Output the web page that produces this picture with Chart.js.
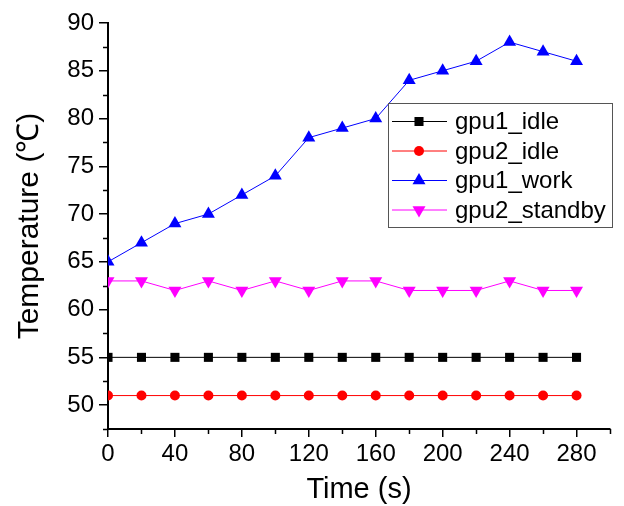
<!DOCTYPE html>
<html>
<head>
<meta charset="utf-8">
<script src="https://cdn.jsdelivr.net/npm/chart.js@4/dist/chart.umd.min.js"></script>
<style>
  html, body { margin: 0; padding: 0; background: #fff; }
  #wrap { width: 624px; height: 506px; position: relative; }
</style>
</head>
<body>
<div id="wrap"><canvas id="c" width="624" height="506"></canvas></div>
<script>
// Sampling times (s)
const timeS = [0, 20, 40, 60, 80, 100, 120, 140, 160, 180, 200, 220, 240, 260, 280];

// Temperatures (°C) per GPU state
const gpu1Idle    = [55, 55, 55, 55, 55, 55, 55, 55, 55, 55, 55, 55, 55, 55, 55];
const gpu2Idle    = [51, 51, 51, 51, 51, 51, 51, 51, 51, 51, 51, 51, 51, 51, 51];
const gpu1Work    = [65, 67, 69, 70, 72, 74, 78, 79, 80, 84, 85, 86, 88, 87, 86];
const gpu2Standby = [63, 63, 62, 63, 62, 63, 62, 63, 63, 62, 62, 62, 63, 62, 62];

// Axis ticks
const xMajorTicks = [0, 40, 80, 120, 160, 200, 240, 280];
const xMinorTicks = [20, 60, 100, 140, 180, 220, 260, 300];
const yMajorTicks = [50, 55, 60, 65, 70, 75, 80, 85, 90];
const yMinorTicks = [47.5, 52.5, 57.5, 62.5, 67.5, 72.5, 77.5, 82.5, 87.5];

const FONT = "'Liberation Sans', Arial, Helvetica, sans-serif";

function pts(arr) { return timeS.map((t, i) => ({ x: t, y: arr[i] })); }

function series(label, arr, color, style, radius, rotation) {
  return {
    label: label,
    data: pts(arr),
    borderColor: color,
    backgroundColor: color,
    borderWidth: 1,
    pointStyle: style,
    pointRadius: radius,
    pointHoverRadius: radius,
    pointRotation: rotation || 0,
    pointBorderWidth: 0,
    pointBackgroundColor: color,
    pointBorderColor: color,
    tension: 0
  };
}

// Short minor tick marks on both axes
const minorTicks = {
  id: 'minorTicks',
  afterDraw(chart) {
    const ctx = chart.ctx;
    const xs = chart.scales.x, ys = chart.scales.y;
    const area = chart.chartArea;
    ctx.save();
    ctx.strokeStyle = '#000';
    ctx.lineWidth = 1.5;
    ctx.beginPath();
    yMinorTicks.forEach(v => {
      const py = Math.round(ys.getPixelForValue(v)) + 0.5;
      ctx.moveTo(area.left - 5, py);
      ctx.lineTo(area.left, py);
    });
    xMinorTicks.forEach(v => {
      const px = Math.round(xs.getPixelForValue(v)) + 0.5;
      ctx.moveTo(px, area.bottom);
      ctx.lineTo(px, area.bottom + 5);
    });
    ctx.stroke();
    ctx.restore();
  }
};

// Boxed legend drawn inside the plot, line sample through marker
const boxLegend = {
  id: 'boxLegend',
  afterDraw(chart) {
    const ctx = chart.ctx;
    const box = { x: 388, y: 103, w: 224, h: 124 };
    ctx.save();
    ctx.fillStyle = '#fff';
    ctx.fillRect(box.x, box.y, box.w, box.h);
    ctx.strokeStyle = '#555';
    ctx.lineWidth = 1;
    ctx.strokeRect(box.x + 0.5, box.y + 0.5, box.w, box.h);
    const rowY0 = 121.5, rowStep = 29.5;
    chart.data.datasets.forEach((ds, i) => {
      const y = rowY0 + i * rowStep;
      ctx.strokeStyle = ds.borderColor;
      ctx.lineWidth = 1;
      ctx.beginPath();
      ctx.moveTo(392, y);
      ctx.lineTo(447, y);
      ctx.stroke();
      ctx.fillStyle = ds.backgroundColor;
      Chart.helpers.drawPoint(ctx, {
        pointStyle: ds.pointStyle,
        radius: ds.pointRadius,
        rotation: ds.pointRotation,
        borderWidth: 0
      }, 419, y);
      ctx.fillStyle = '#000';
      ctx.font = '24px ' + FONT;
      ctx.textBaseline = 'middle';
      ctx.textAlign = 'left';
      ctx.fillText(ds.label, 455, y + 1);
    });
    ctx.restore();
  }
};

new Chart(document.getElementById('c'), {
  type: 'line',
  data: {
    datasets: [
      series('gpu1_idle', gpu1Idle, '#000000', 'rect', 6.4),
      series('gpu2_idle', gpu2Idle, '#ff0000', 'circle', 5),
      series('gpu1_work', gpu1Work, '#0000ff', 'triangle', 7.5),
      series('gpu2_standby', gpu2Standby, '#ff00ff', 'triangle', 7.5, 180)
    ]
  },
  options: {
    responsive: false,
    animation: false,
    devicePixelRatio: 1,
    layout: { padding: { top: 23, right: 14, left: 0, bottom: 0 } },
    plugins: {
      legend: { display: false },
      tooltip: { enabled: false }
    },
    scales: {
      x: {
        type: 'linear',
        min: 0,
        max: 300,
        afterFit(scale) { scale.height = 77; },
        afterBuildTicks(scale) { scale.ticks = xMajorTicks.map(v => ({ value: v })); },
        border: { display: true, color: '#000', width: 2 },
        grid: {
          drawOnChartArea: false,
          drawTicks: true,
          tickLength: 8,
          tickColor: '#000',
          lineWidth: 1.5
        },
        ticks: {
          color: '#000',
          font: { family: FONT, size: 24 },
          padding: 3,
          maxRotation: 0,
          autoSkip: false
        },
        title: {
          display: true,
          text: 'Time (s)',
          color: '#000',
          font: { family: FONT, size: 29, lineHeight: 1.1 },
          padding: { top: 0, bottom: 0 }
        }
      },
      y: {
        type: 'linear',
        min: 47.5,
        max: 90,
        afterFit(scale) { scale.width = 108; },
        afterBuildTicks(scale) { scale.ticks = yMajorTicks.map(v => ({ value: v })); },
        border: { display: true, color: '#000', width: 2 },
        grid: {
          drawOnChartArea: false,
          drawTicks: true,
          tickLength: 9,
          tickColor: '#000',
          lineWidth: 1.5
        },
        ticks: {
          color: '#000',
          font: { family: FONT, size: 24 },
          padding: 5,
          autoSkip: false
        },
        title: {
          display: true,
          text: 'Temperature (℃)',
          color: '#000',
          font: { family: FONT, size: 30, lineHeight: 1.2 },
          padding: { top: 12, bottom: 0 }
        }
      }
    }
  },
  plugins: [minorTicks, boxLegend]
});
</script>
</body>
</html>
